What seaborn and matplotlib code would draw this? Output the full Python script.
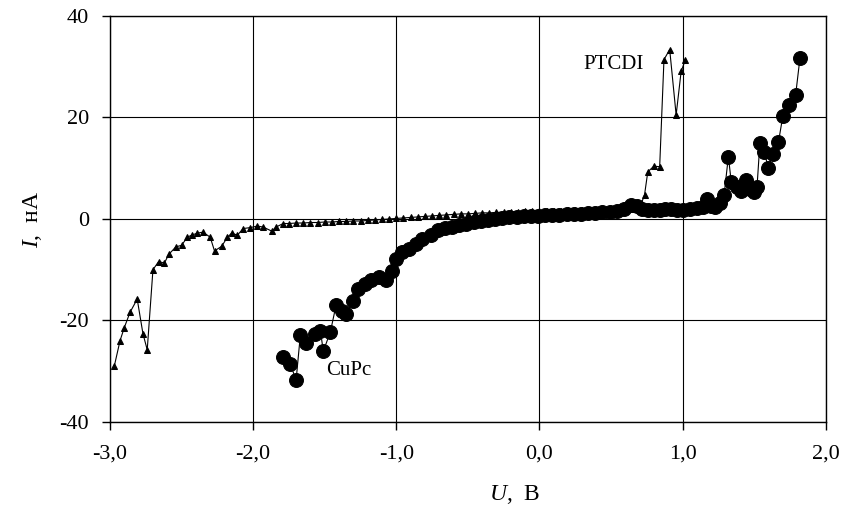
import matplotlib
matplotlib.use("Agg")
import matplotlib.pyplot as plt
import seaborn as sns
import pandas as pd
from matplotlib.ticker import FixedLocator, FixedFormatter

# PTCDI (triangles)
ptcdi_u = [-2.97, -2.93, -2.90, -2.86, -2.81, -2.77, -2.74, -2.70, -2.66, -2.62,
           -2.59, -2.54, -2.50, -2.46, -2.43, -2.39, -2.35, -2.30, -2.27, -2.22,
           -2.18, -2.15, -2.11, -2.07, -2.02, -1.97, -1.93, -1.87, -1.84, -1.79,
           -1.75, -1.70, -1.65, -1.60, -1.55, -1.50, -1.45, -1.40, -1.35, -1.30,
           -1.25, -1.20, -1.15, -1.10, -1.05, -1.00, -0.95, -0.90, -0.85, -0.80,
           -0.75, -0.70, -0.65, -0.60, -0.55, -0.50, -0.45, -0.40, -0.35, -0.30,
           -0.25, -0.20, -0.15, -0.10, -0.05, 0.00, 0.05, 0.10, 0.15, 0.20,
           0.25, 0.30, 0.35, 0.40, 0.45, 0.50, 0.55, 0.60, 0.65, 0.70,
           0.734, 0.757, 0.80, 0.84, 0.87, 0.91, 0.955, 0.99, 1.02]
ptcdi_i = [-29.0, -24.0, -21.4, -18.4, -15.8, -22.6, -25.8, -10.0, -8.4, -8.7,
           -7.0, -5.5, -5.2, -3.6, -3.2, -2.8, -2.6, -3.6, -6.3, -5.4,
           -3.6, -2.8, -3.2, -1.9, -1.7, -1.4, -1.6, -2.4, -1.6, -0.9,
           -0.9, -0.8, -0.8, -0.7, -0.7, -0.6, -0.6, -0.5, -0.5, -0.4,
           -0.4, -0.3, -0.2, -0.1, 0.0, 0.1, 0.2, 0.3, 0.4, 0.5,
           0.6, 0.7, 0.8, 0.9, 1.0, 1.0, 1.1, 1.2, 1.2, 1.3,
           1.3, 1.4, 1.4, 1.5, 1.5, 1.5, 1.6, 1.6, 1.6, 1.7,
           1.7, 1.7, 1.8, 1.8, 1.8, 1.9, 1.9, 1.9, 2.0, 2.2,
           4.7, 9.3, 10.4, 10.3, 31.4, 33.4, 20.5, 29.1, 31.4]

# CuPc (circles)
cupc_u = [-1.79, -1.74, -1.70, -1.67, -1.63, -1.57, -1.53, -1.51, -1.46, -1.42,
          -1.38, -1.35, -1.30, -1.27, -1.22, -1.18, -1.12, -1.07, -1.03, -1.00,
          -0.96, -0.91, -0.86, -0.82, -0.76, -0.71, -0.66, -0.61, -0.56, -0.51,
          -0.46, -0.41, -0.36, -0.31, -0.26, -0.21, -0.16, -0.11, -0.06, -0.01,
          0.04, 0.09, 0.14, 0.19, 0.24, 0.29, 0.34, 0.39, 0.44, 0.49,
          0.54, 0.59, 0.64, 0.68, 0.72, 0.76, 0.80, 0.84, 0.88, 0.92,
          0.96, 1.00, 1.05, 1.10, 1.14, 1.17, 1.20, 1.23, 1.26, 1.29,
          1.32, 1.34, 1.38, 1.41, 1.44, 1.47, 1.50, 1.52, 1.54, 1.57,
          1.60, 1.63, 1.67, 1.70, 1.745, 1.79, 1.82]
cupc_i = [-27.3, -28.6, -31.8, -22.8, -24.4, -22.7, -22.0, -26.1, -22.2, -16.9,
          -18.1, -18.7, -16.2, -13.8, -12.9, -12.1, -11.5, -12.0, -10.3, -7.9,
          -6.5, -5.9, -4.9, -3.9, -3.2, -2.2, -1.8, -1.5, -1.2, -0.9,
          -0.6, -0.4, -0.2, 0.0, 0.2, 0.3, 0.4, 0.5, 0.5, 0.6,
          0.7, 0.7, 0.8, 0.9, 0.9, 1.0, 1.1, 1.2, 1.3, 1.4,
          1.6, 1.9, 2.8, 2.5, 2.0, 1.8, 1.7, 1.8, 2.0, 1.9,
          1.7, 1.8, 2.0, 2.2, 2.4, 4.0, 2.6, 2.4, 3.2, 4.7,
          12.3, 7.3, 6.3, 5.6, 7.7, 6.0, 5.4, 6.3, 14.9, 13.2,
          10.0, 12.9, 15.2, 20.2, 22.5, 24.5, 31.7]

x_ticks = [-3.0, -2.0, -1.0, 0.0, 1.0, 2.0]
x_tick_labels = ["-3,0", "-2,0", "-1,0", "0,0", "1,0", "2,0"]
y_ticks = [-40, -20, 0, 20, 40]
y_tick_labels = ["-40", "-20", "0", "20", "40"]

sns.set_theme(style="white")
plt.rcParams["font.family"] = ["Liberation Serif", "DejaVu Serif"]
plt.rcParams["mathtext.fontset"] = "custom"
plt.rcParams["mathtext.it"] = "Liberation Serif:italic"
plt.rcParams["mathtext.rm"] = "Liberation Serif"

df_p = pd.DataFrame({"U": ptcdi_u, "I": ptcdi_i})
df_c = pd.DataFrame({"U": cupc_u, "I": cupc_i})

fig = plt.figure(figsize=(8.43, 5.17), dpi=100)
ax = fig.add_axes([0.1305, 0.184, 0.849, 0.785])

sns.lineplot(data=df_p, x="U", y="I", ax=ax, sort=False, estimator=None,
             color="black", linewidth=0.8, marker="^", markersize=5,
             markeredgecolor="black", markerfacecolor="black", zorder=3)
sns.lineplot(data=df_c, x="U", y="I", ax=ax, sort=False, estimator=None,
             color="black", linewidth=0.8, marker="o", markersize=10,
             markeredgecolor="black", markerfacecolor="black", zorder=4)

ax.set_xlim(-3.0, 2.0)
ax.set_ylim(-40, 40)
ax.xaxis.set_major_locator(FixedLocator(x_ticks))
ax.xaxis.set_major_formatter(FixedFormatter(x_tick_labels))
ax.yaxis.set_major_locator(FixedLocator(y_ticks))
ax.yaxis.set_major_formatter(FixedFormatter(y_tick_labels))

ax.grid(True, color="black", linewidth=0.8)
ax.set_axisbelow(True)
for s in ax.spines.values():
    s.set_visible(True)
    s.set_color("black")
    s.set_linewidth(1.0)

ax.tick_params(axis="both", direction="out", length=6, width=1.0,
               color="black", labelsize=16, labelcolor="black")
ax.tick_params(axis="x", pad=10, bottom=True)
ax.tick_params(axis="y", pad=9, left=True)

ax.set_xlabel(r"$\it{U}$,  В", fontsize=17, color="black")
ax.set_ylabel(r"$\it{I}$,  нА", fontsize=17, color="black")
ax.xaxis.set_label_coords(0.566, -0.15)
ax.yaxis.set_label_coords(-0.092, 0.5)

ax.text(0.52, 30.5, "PTCDI", fontsize=15, ha="center", va="center", color="black")
ax.text(-1.33, -29.9, "CuPc", fontsize=15, ha="center", va="center", color="black")

fig.savefig("out.png", dpi=100, facecolor="white")
